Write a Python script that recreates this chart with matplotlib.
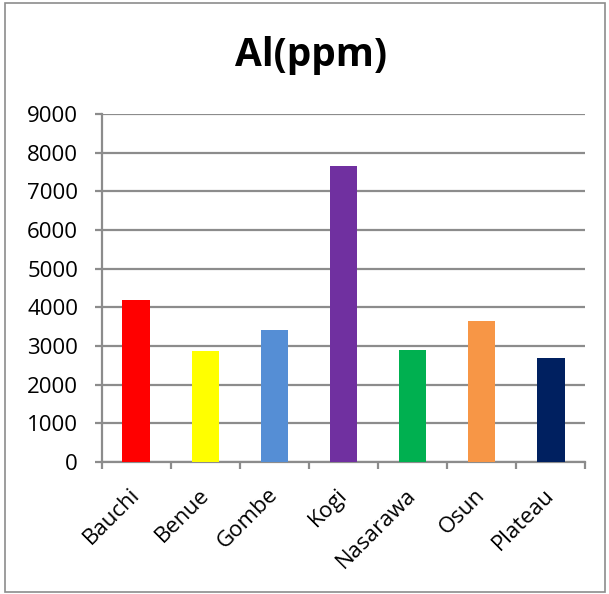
import matplotlib.pyplot as plt
from matplotlib.patches import Rectangle
from matplotlib.transforms import ScaledTranslation

# Aluminium content by state
states = ["Bauchi", "Benue", "Gombe", "Kogi", "Nasarawa", "Osun", "Plateau"]
al_ppm = [4180, 2870, 3410, 7655, 2890, 3640, 2680]
bar_colors = ["#ff0000", "#ffff00", "#558ed5", "#7030a0", "#00b050", "#f79646", "#002060"]
y_ticks = [0, 1000, 2000, 3000, 4000, 5000, 6000, 7000, 8000, 9000]

plt.rcParams["font.family"] = ["Open Sans", "DejaVu Sans"]
grid_col = "#8c8c8c"

fig = plt.figure(figsize=(6.09, 5.94), dpi=100)
ax = fig.add_axes([0.167, 0.222, 0.794, 0.586])

x = list(range(len(states)))
ax.bar(x, al_ppm, width=0.4, color=bar_colors, zorder=3)

ax.set_xlim(-0.5, len(states) - 0.5)
ax.set_ylim(0, 9000)
ax.set_yticks(y_ticks)
ax.set_yticklabels([str(v) for v in y_ticks], fontsize=16)
ax.yaxis.grid(True, color=grid_col, linewidth=1.6, zorder=0)

# category labels sit between boundary ticks
ax.set_xticks(x)
ax.set_xticklabels(states, rotation=45, ha="right", rotation_mode="anchor", fontsize=16)
ax.tick_params(axis="x", length=0, pad=16)
shift = ScaledTranslation(-7 / 100, 0, fig.dpi_scale_trans)
for lbl in ax.get_xticklabels():
    lbl.set_transform(lbl.get_transform() + shift)
ax.set_xticks([i - 0.5 for i in range(len(states) + 1)], minor=True)
ax.tick_params(axis="x", which="minor", length=5, width=1.6, color=grid_col)
ax.tick_params(axis="y", length=5, width=1.6, color=grid_col, pad=12)

for side in ["top", "right"]:
    ax.spines[side].set_visible(False)
for side in ["left", "bottom"]:
    ax.spines[side].set_color(grid_col)
    ax.spines[side].set_linewidth(1.6)

fig.text(0.51, 0.906, "Al(ppm)", ha="center", va="center", fontsize=28, fontweight="bold")

# chart border
fig.patches.append(Rectangle((0.009, 0.003), 0.985, 0.992, transform=fig.transFigure,
                             fill=False, edgecolor="#8c8c8c", linewidth=1.2))

fig.savefig("out.png", dpi=100)
